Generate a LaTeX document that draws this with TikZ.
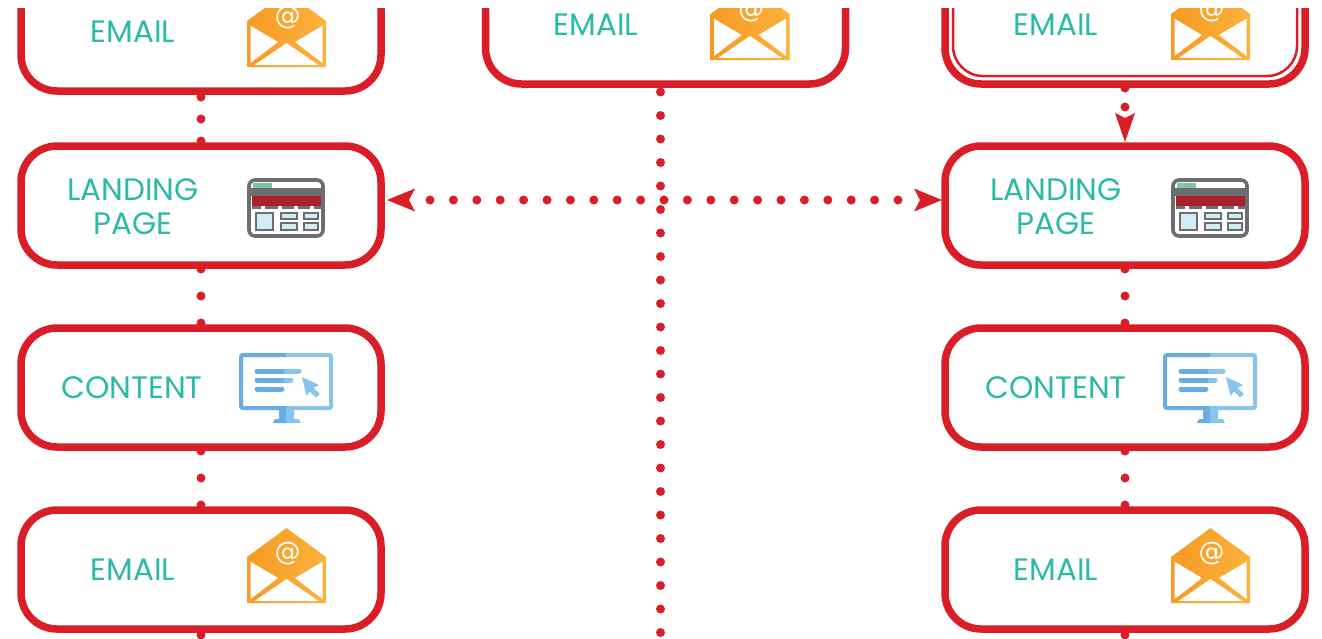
\documentclass[tikz,border=0pt]{standalone}
\usepackage{fontspec}
\setmainfont{Poppins}
\newfontfamily\atfont{DejaVu Sans}
\usetikzlibrary{arrows.meta}
\definecolor{boxred}{RGB}{218,30,40}
\definecolor{teal}{RGB}{44,186,168}
\definecolor{envL}{RGB}{246,154,35}
\definecolor{envR}{RGB}{251,178,60}
\definecolor{monL}{RGB}{104,172,226}
\definecolor{monR}{RGB}{136,196,238}
\definecolor{brgray}{RGB}{108,109,112}
\definecolor{brred}{RGB}{172,31,45}
\definecolor{brgreen}{RGB}{124,200,160}
\definecolor{brblue}{RGB}{209,236,243}
\tikzset{
  x=1pt,y=-1pt,
  flowbox/.style={draw=boxred,line width=7.5pt,rounded corners=36pt,fill=white,minimum width=360pt,minimum height=119pt,outer sep=0pt,inner sep=0pt},
  lab/.style={text=teal,font=\fontsize{31}{34}\selectfont,align=center,inner sep=0pt},
  dotted line/.style={draw=boxred,line width=9pt,line cap=round},
  envelope/.pic={
    \shade[left color=envL,right color=envR] (0,29)--(39.5,0)--(79,29)--(79,75)--(0,75)--cycle;
    \fill[white] (3.5,33.7)--(31,50)--(3.5,71)--cycle;
    \fill[white] (75.5,33.7)--(48,50)--(75.5,71)--cycle;
    \fill[white] (7.5,73)--(39.5,51)--(71.5,73)--cycle;
    \node[text=white,inner sep=0pt,font=\atfont\fontsize{26}{26}\selectfont] (-at) at (40.5,26) {@};
  },
  monitor/.pic={
    \fill[monL] (40,57)--(47,57)--(47,70)--(34,70)--(36,66)--(40,66)--cycle;
    \fill[monR] (47,57)--(55,57)--(55,66)--(60,66)--(62,70)--(47,70)--cycle;
    \draw[monL,line width=4pt,rounded corners=2pt] (47,2)--(2,2)--(2,55)--(47,55);
    \draw[monR,line width=4pt,rounded corners=2pt] (47,2)--(92,2)--(92,55)--(47,55);
    \draw[monL,line width=5pt,line cap=round] (18,18)--(47,18) (18,27)--(47,27) (18,36)--(43,36);
    \draw[monR,line width=5pt,line cap=round] (47,18)--(60,18) (47,27)--(52,27);
    \fill[monR] (63,24)--(80,32)--(74.5,35)--(81,41)--(77,44.5)--(71,38.5)--(67.5,43)--cycle;
  },
  browser/.pic={
    \draw[brgray,line width=3.6pt,fill=white,rounded corners=6pt] (2,2) rectangle (76,58);
    \fill[brgray] (0,10)--(78,10)--(78,18)--(0,18)--cycle;
    \fill[brgreen] (6,5) rectangle (25,10);
    \fill[brred] (5,17.5) rectangle (74,28);
    \fill[brgray] (5,28) rectangle (74,30.5);
    \foreach \tx in {14,31,47,63} \fill[white] (\tx,28) rectangle ++(4,2.5);
    \draw[brgray,line width=2pt,fill=brblue] (9,34.5) rectangle (26,51.5);
    \draw[brgray,line width=2pt,fill=brblue] (34,35) rectangle (49.5,41);
    \draw[brgray,line width=2pt,fill=brblue] (34,45) rectangle (49.5,52);
    \draw[brgray,line width=2pt,fill=brblue] (57,35) rectangle (70.5,41);
    \draw[brgray,line width=2pt,fill=brblue] (57,45) rectangle (70.5,52);
  },
}
\begin{document}
\begin{tikzpicture}
\useasboundingbox (0,0) rectangle (1322,638);
\begin{scope}
\clip (0,8) rectangle (1322,638);
% left column
\node[flowbox] (L1) at (201,31.5) {};
\node[flowbox] (L2) at (201,205.5) {};
\node[flowbox] (L3) at (201,387.5) {};
\node[flowbox] (L4) at (201,569.5) {};
% middle
\node[flowbox] (M1) at (665.5,24.5) {};
% right column
\node[flowbox] (R1) at (1125,24.5) {};
\node[flowbox] (R2) at (1125,205.5) {};
\node[flowbox] (R3) at (1125,387.5) {};
\node[flowbox] (R4) at (1125,569.5) {};
\draw[boxred,line width=2.5pt,rounded corners=30pt] (953,-60) rectangle (1297,76);
% bottom free ends
\coordinate (Mend) at (660.5,650);
\coordinate (Lend) at (201,650);
\coordinate (Rend) at (1125,650);
% connectors
\draw[dotted line,dash pattern=on 0pt off 22pt,dash phase=16pt] (L1.south) -- (L2.north);
\draw[dotted line,dash pattern=on 0pt off 27pt,dash phase=23pt] (L2.south) -- (L3.north);
\draw[dotted line,dash pattern=on 0pt off 27pt,dash phase=23pt] (L3.south) -- (L4.north);
\draw[dotted line,dash pattern=on 0pt off 27pt,dash phase=23pt] (R2.south) -- (R3.north);
\draw[dotted line,dash pattern=on 0pt off 27pt,dash phase=23pt] (R3.south) -- (R4.north);
\draw[dotted line,dash pattern=on 0pt off 200pt,dash phase=194pt] (L4.south) -- (Lend);
\draw[dotted line,dash pattern=on 0pt off 200pt,dash phase=194pt] (R4.south) -- (Rend);
\draw[dotted line,dash pattern=on 0pt off 23.5pt,dash phase=15.5pt] (M1.south -| Mend) -- (Mend);
\draw[dotted line,dash pattern=on 0pt off 19pt,dash phase=15pt,-{Stealth[length=29pt,width=20pt,inset=5pt,line width=0pt]}] (R1.south) -- ([yshift=4pt]R2.north);
\draw[dotted line,dash pattern=on 0pt off 23.4pt,dash phase=2.4pt,{Stealth[length=28pt,width=23pt,inset=6pt,line width=0pt]}-{Stealth[length=28pt,width=23pt,inset=6pt,line width=0pt]}] ([xshift=6pt,yshift=5.5pt]L2.east) -- ([xshift=-3pt,yshift=5.5pt]R2.west);
% labels
\node[lab] (tL1) at (133,32) {EMAIL};
\node[lab] (tL2) at (133,207) {LANDING\\PAGE};
\node[lab] (tL3) at (132,388) {CONTENT};
\node[lab] (tL4) at (133,570) {EMAIL};
\node[lab] (tM1) at (596,25) {EMAIL};
\node[lab] (tR1) at (1056,25) {EMAIL};
\node[lab] (tR2) at (1056,207) {LANDING\\PAGE};
\node[lab] (tR3) at (1056,388) {CONTENT};
\node[lab] (tR4) at (1056,570) {EMAIL};
% icons
\pic (eL1) at (247,-8) {envelope};
\pic (eM1) at (710.5,-15) {envelope};
\pic (eR1) at (1171,-15) {envelope};
\pic (eL4) at (247,528) {envelope};
\pic (eR4) at (1171,528) {envelope};
\pic (bL) at (247,178) {browser};
\pic (bR) at (1171,178) {browser};
\pic (mL) at (239,353) {monitor};
\pic (mR) at (1163,353) {monitor};
\end{scope}
\end{tikzpicture}
\end{document}
